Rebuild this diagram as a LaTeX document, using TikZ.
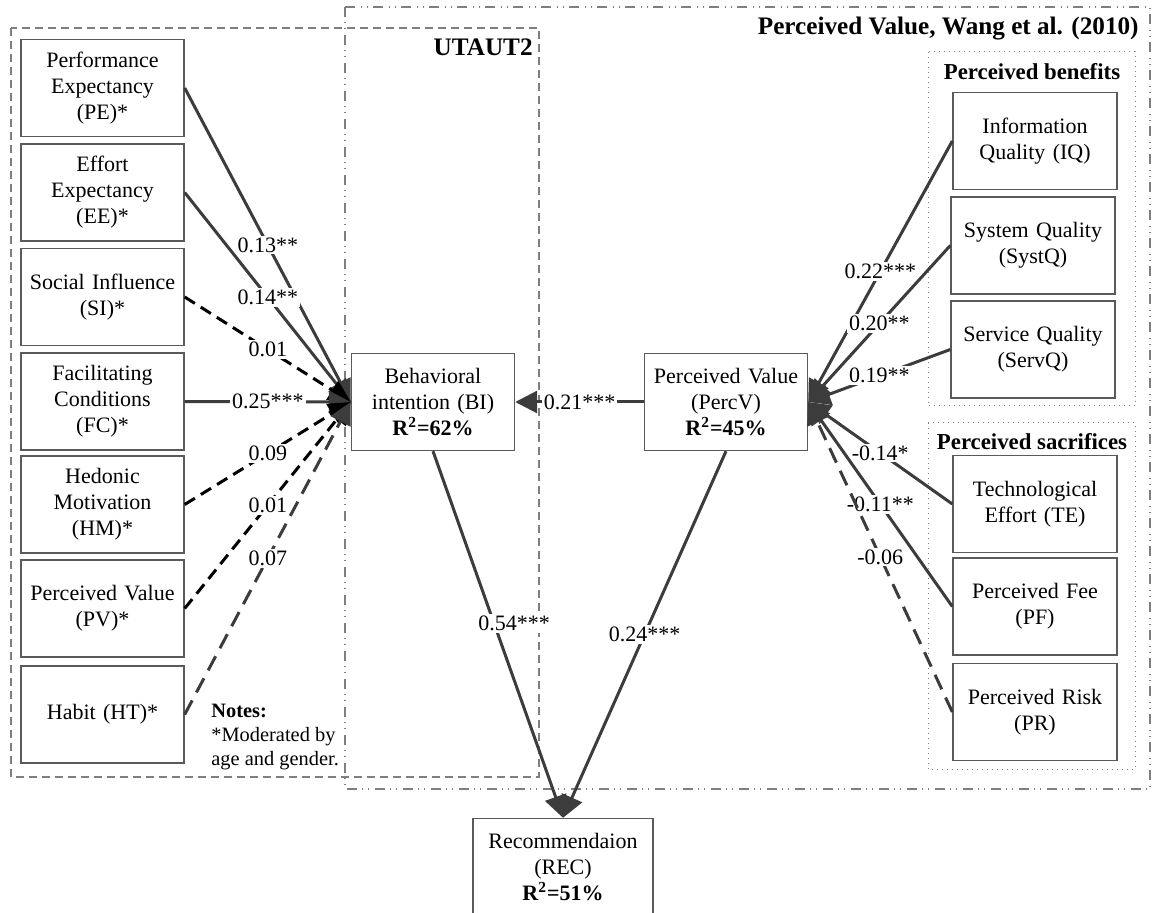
\documentclass[tikz,border=0pt]{standalone}
\usepackage{fontspec}
\setmainfont{Liberation Serif}
\usetikzlibrary{arrows.meta}
\definecolor{ln}{HTML}{3C3C3C}
\definecolor{bx}{HTML}{5A5A5A}
\definecolor{ct}{HTML}{7F7F7F}
\begin{document}
\begin{tikzpicture}[x=0.5pt,y=-0.5pt,
  font=\fontsize{11}{13}\selectfont,
  box/.style={draw=bx, line width=0.7pt, align=center, minimum width=81.5pt, minimum height=48.5pt, inner sep=0pt, text width=80pt},
  conn/.style={draw=ln, line width=1.5pt, -{Triangle[length=11pt,width=11pt]}},
  lbl/.style={fill=white, inner sep=1pt, pos=0.5, text=black},
  dshk/.style={draw=black, dash pattern=on 6pt off 3.5pt},
  dshg/.style={draw=ln, dash pattern=on 8pt off 4.5pt},
  utbox/.style={draw=ct, line width=0.6pt, dash pattern=on 4pt off 2.5pt},
  pvbox/.style={draw=ct, line width=0.6pt, dash pattern=on 5pt off 2.5pt on 0.5pt off 2.5pt on 0.5pt off 3pt},
  grpbox/.style={draw=ct, line width=0.5pt, dotted},
  ttl/.style={font=\bfseries\fontsize{12.6}{14}\selectfont, inner sep=0pt},
  sub/.style={font=\bfseries\fontsize{11.4}{13}\selectfont, inner sep=0pt}]
\useasboundingbox (0,0) rectangle (1154,913);
% containers
\draw[pvbox] (345,7) rectangle (1150,789);
\draw[utbox] (11,28) rectangle (539,777);
\draw[grpbox] (928,52) rectangle (1135,406);
\draw[grpbox] (928,423) rectangle (1135,769);
\node[ttl, anchor=east] (tUT) at (533,47) {UTAUT2};
\node[ttl, anchor=east] (tPV) at (1139,29) {Perceived Value, Wang et al. (2010)};
\node[sub] (tPB) at (1032,72) {Perceived benefits};
\node[sub] (tPS) at (1032,442) {Perceived sacrifices};
% left boxes
\node[box] (PE) at (102.5,88) {Performance\\Expectancy\\(PE)*};
\node[box] (EE) at (102.5,192.5) {Effort\\Expectancy\\(EE)*};
\node[box] (SI) at (102.5,297) {Social Influence\\(SI)*};
\node[box] (FC) at (102.5,401.5) {Facilitating\\Conditions\\(FC)*};
\node[box] (HM) at (102.5,504.5) {Hedonic\\Motivation\\(HM)*};
\node[box] (PV) at (102.5,608.5) {Perceived Value\\(PV)*};
\node[box] (HT) at (102.5,714.5) {Habit (HT)*};
% center boxes
\node[box] (BI) at (433,402) {Behavioral\\intention (BI)\\\textbf{R\textsuperscript{2}=62\%}};
\node[box] (PercV) at (726,402) {Perceived Value\\(PercV)\\\textbf{R\textsuperscript{2}=45\%}};
\node[box, minimum width=90pt, text width=88pt] (REC) at (563,867) {Recommendaion\\(REC)\\\textbf{R\textsuperscript{2}=51\%}};
% right boxes
\node[box, minimum width=82pt] (IQ) at (1035,141) {Information\\Quality (IQ)};
\node[box, minimum width=82pt] (SystQ) at (1033,245.5) {System Quality\\(SystQ)};
\node[box, minimum width=82pt] (ServQ) at (1033,349.5) {Service Quality\\(ServQ)};
\node[box, minimum width=82pt] (TE) at (1035,504) {Technological\\Effort (TE)};
\node[box, minimum width=82pt] (PF) at (1035,606.5) {Perceived Fee\\(PF)};
\node[box, minimum width=82pt] (PR) at (1035,712) {Perceived Risk\\(PR)};
% notes
\node[anchor=west, align=left, inner sep=0pt, font=\fontsize{10.2}{12}\selectfont] (notes) at (211,737) {\textbf{Notes:}\\*Moderated by\\age and gender.};
% left connectors
\draw[conn] (PE.east) -- (BI.west) node[lbl] {0.13**};
\draw[conn] (EE.east) -- (BI.west) node[lbl] {0.14**};
\draw[conn, dshk] (SI.east) -- (BI.west) node[lbl] {0.01};
\draw[conn] (FC.east) -- (BI.west) node[lbl] {0.25***};
\draw[conn, dshk] (HM.east) -- (BI.west) node[lbl] {0.09};
\draw[conn, dshk] (PV.east) -- (BI.west) node[lbl] {0.01};
\draw[conn, dshg] (HT.east) -- (BI.west) node[lbl] {0.07};
% right connectors
\draw[conn] (IQ.west) -- (PercV.east) node[lbl] {0.22***};
\draw[conn] (SystQ.west) -- (PercV.east) node[lbl] {0.20**};
\draw[conn] (ServQ.west) -- (PercV.east) node[lbl] {0.19**};
\draw[conn] (TE.west) -- (PercV.east) node[lbl] {-0.14*};
\draw[conn] (PF.west) -- (PercV.east) node[lbl] {-0.11**};
\draw[conn, dshg] (PR.west) -- (PercV.east) node[lbl] {-0.06};
% center connectors
\draw[conn] (PercV.west) -- (BI.east) node[lbl] {0.21***};
\draw[conn] (BI.south) -- (REC.north) node[lbl, pos=0.47, xshift=10pt] {0.54***};
\draw[conn] (PercV.south) -- (REC.north) node[lbl, pos=0.5] {0.24***};
\end{tikzpicture}
\end{document}
